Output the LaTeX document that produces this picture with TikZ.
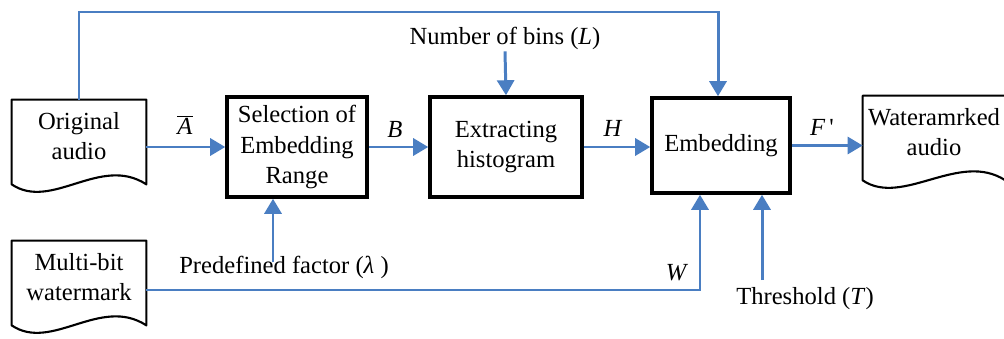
\documentclass[tikz,border=0pt]{standalone}
\usepackage{fontspec}
\setmainfont{Liberation Serif}
\usetikzlibrary{arrows.meta,calc,positioning}
\definecolor{flowblue}{HTML}{4A7EC2}

\begin{document}
\begin{tikzpicture}[
  x=0.2mm, y=-0.2mm,
  font=\fontsize{14}{17.5}\selectfont,
  >={Triangle[length=3mm,width=3.4mm]},
  flow/.style={->, draw=flowblue, line width=1.7pt},
  wire/.style={draw=flowblue, line width=1.7pt},
  block/.style={
    draw=black, line width=2pt, align=center,
    inner sep=0pt, minimum height=20mm
  },
  document/.style={
    align=center, inner sep=0pt,
    minimum width=26.8mm, minimum height=14.4mm
  },
  docline/.style={draw=black, line width=1.2pt, line join=round},
  signal/.style={inner sep=1pt},
  annotation/.style={align=center, inner sep=1pt}
]
\useasboundingbox (0,0) rectangle (1004,338);
\clip (0,0) rectangle (1004,338);

% Audio in, watermark in, audio out.
\node[document] (origAudio) at (79,136) {Original\\audio};
\node[document] (multiBit) at (79,277) {Multi-bit\\watermark};
\node[document, minimum width=28.4mm] (markedAudio) at (934,132)
  {Wateramrked\\audio};
\foreach \d in {origAudio,multiBit,markedAudio}
  \draw[docline] ($(\d.south east)+(0,12)$) -- (\d.north east)
    -- (\d.north west) -- ($(\d.south west)+(0,12)$)
    .. controls +(40,27) and +(-46,-30) .. ($(\d.south east)+(0,12)$)
    -- cycle;

% Processing chain.
\node[block, minimum width=28mm] (selBox) at (297,147)
  {Selection of\\Embedding\\Range};
\node[block, minimum width=30.4mm] (histBox) at (506,147)
  {Extracting\\histogram};
\node[block, minimum width=27.6mm, minimum height=19mm] (embBox)
  at (721,145.5) {Embedding};

% Side inputs.
\node[annotation] (binsLabel) at (505,38) {Number of bins (\textit{L})};
\node[annotation] (factorLabel) at (284,267) {Predefined factor (\textit{λ} )};
\node[annotation] (threshLabel) at (805,299) {Threshold (\textit{T})};
\coordinate (topRoute) at (0,12);
\coordinate (factorTail) at (273,262);
\coordinate (threshTail) at (762,280);
\coordinate (wmkTurn) at (700,290);

% Main signal path.
\draw[flow] (origAudio.east |- selBox.west) -- (selBox.west);
\draw[flow] (selBox.east) -- (histBox.west);
\draw[flow] (histBox.east) -- (histBox.east -| embBox.west);
\draw[flow] (embBox.east) -- (embBox.east -| markedAudio.west);
\draw[flow] (origAudio.north) -- (origAudio.north |- topRoute)
  -| ($(embBox.north)+(-3,0)$);

\draw[flow] (binsLabel.south) -- (histBox.north);
\draw[flow] (factorTail) -- (factorTail |- selBox.south);
\draw[flow] (threshTail) -- (threshTail |- embBox.south);
\draw[flow] (multiBit.east |- wmkTurn) -- (wmkTurn)
  -- (wmkTurn |- embBox.south);

% Signal names.
\node[signal] (aBar) at (185,125) {$\overline{\textit{A}}$};
\node[signal] (bSig) at (395,129) {\textit{B}};
\node[signal] (hSig) at (613,128) {\textit{H}};
\node[signal] (fSig) at (822,127) {\textit{F}\,\textquotesingle};
\node[signal] (wSig) at (677,273) {\textit{W}};

\end{tikzpicture}
\end{document}
